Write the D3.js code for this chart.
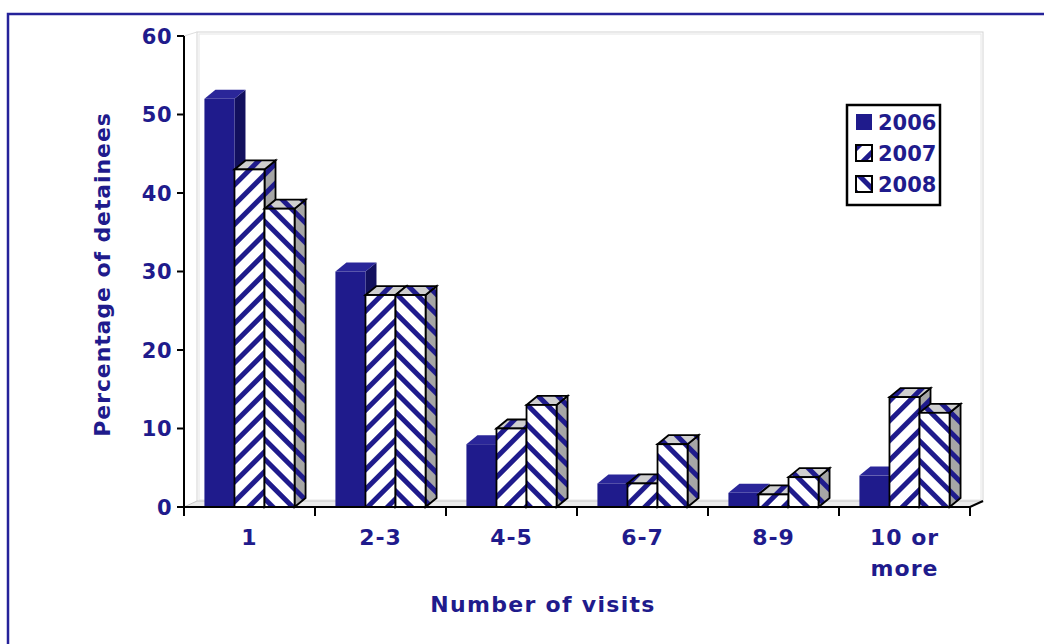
<!DOCTYPE html>
<html lang="en">
<head>
  <meta charset="UTF-8">
  <title>Number of visits</title>
  <script src="https://d3js.org/d3.v7.min.js"></script>
  <style>
    body { margin: 0; background: #fff; }
    svg text { font-family: "DejaVu Sans", Verdana, sans-serif; font-weight: bold; fill: #1f1b8c; }
  </style>
</head>
<body>
  <div id="chart"></div>
  <script>
    // Data
    const categories = ["1", "2-3", "4-5", "6-7", "8-9", "10 or more"];
    const years = ["2006", "2007", "2008"];
    const values2006 = [52, 30, 8, 3, 1.8, 4];
    const values2007 = [43, 27, 10, 3, 1.6, 14];
    const values2008 = [38, 27, 13, 8, 3.8, 12];
    const yTicks = [0, 10, 20, 30, 40, 50, 60];

    const series = [values2006, values2007, values2008];

    const width = 1044, height = 644;
    const navy = "#1f1b8c";
    const dx = 11, dy = 9;       // bar depth
    const wx = 13, wy = 6;       // wall depth

    const svg = d3.select("#chart").append("svg")
      .attr("width", width).attr("height", height);

    // Patterns
    const defs = svg.append("defs");
    function stripes(id, angle, bg) {
      const p = defs.append("pattern")
        .attr("id", id)
        .attr("patternUnits", "userSpaceOnUse")
        .attr("width", 14).attr("height", 14)
        .attr("patternTransform", `rotate(${angle})`);
      p.append("rect").attr("width", 14).attr("height", 14).attr("fill", bg);
      p.append("rect").attr("width", 5).attr("height", 14).attr("fill", navy);
    }
    stripes("p7", 45, "#fff");
    stripes("p7s", 45, "#a6a6a6");
    stripes("p7t", 45, "#cfcfcf");
    stripes("p8", -45, "#fff");
    stripes("p8s", -45, "#a6a6a6");
    stripes("p8t", -45, "#cfcfcf");

    const fills = [
      { front: navy, side: "#12105e", top: "#2a2699", stroke: "none" },
      { front: "url(#p7)", side: "url(#p7s)", top: "url(#p7t)", stroke: "#000" },
      { front: "url(#p8)", side: "url(#p8s)", top: "url(#p8t)", stroke: "#000" }
    ];

    // Outer frame
    svg.append("rect")
      .attr("x", 8).attr("y", 14)
      .attr("width", 1100).attr("height", 700)
      .attr("fill", "none").attr("stroke", "#25229a").attr("stroke-width", 2.5);

    // Scales
    const x = d3.scaleBand().domain(categories).range([184, 970]);
    const xIn = d3.scaleBand().domain(years).range([0, x.bandwidth()]).paddingOuter(0.68);
    const y = d3.scaleLinear().domain([0, 60]).range([507, 36]);

    // Back wall and floor
    const x0 = x.range()[0], x1 = x.range()[1];
    svg.append("rect")
      .attr("x", x0 + wx).attr("y", y(60) - wy + 2)
      .attr("width", x1 - x0).attr("height", y(0) - y(60) - 1)
      .attr("fill", "#fff").attr("stroke", "#d4d4d4").attr("stroke-width", 1);
    svg.append("rect")
      .attr("x", x0 + wx + 2).attr("y", y(60) - wy + 4)
      .attr("width", x1 - x0 - 4).attr("height", y(0) - y(60) - 5)
      .attr("fill", "none").attr("stroke", "#e6e6e6").attr("stroke-width", 1);
    svg.append("path")
      .attr("d", `M${x0},${y(60)}L${x0 + wx},${y(60) - wy + 2}`)
      .attr("stroke", "#ddd").attr("fill", "none");
    svg.append("path")
      .attr("d", `M${x0},${y(0)}L${x0 + wx},${y(0) - wy}L${x1 + wx},${y(0) - wy}L${x1},${y(0)}Z`)
      .attr("fill", "#ececec").attr("stroke", "#c8c8c8");

    // Bars
    years.forEach((yr, i) => {
      const f = fills[i];
      const g = svg.append("g").attr("class", "bars-" + yr);
      categories.forEach((c, j) => {
        const v = series[i][j];
        const bx = x(c) + xIn(yr), bw = xIn.bandwidth();
        const yt = y(v), yb = y(0);
        const sw = f.stroke === "none" ? 0 : 1.8;
        g.append("path")
          .attr("d", `M${bx + bw},${yt}L${bx + bw + dx},${yt - dy}L${bx + bw + dx},${yb - dy}L${bx + bw},${yb}Z`)
          .attr("fill", f.side).attr("stroke", f.stroke).attr("stroke-width", sw);
        g.append("path")
          .attr("d", `M${bx},${yt}L${bx + dx},${yt - dy}L${bx + bw + dx},${yt - dy}L${bx + bw},${yt}Z`)
          .attr("fill", f.top).attr("stroke", f.stroke).attr("stroke-width", sw);
        g.append("rect")
          .attr("x", bx).attr("y", yt)
          .attr("width", bw).attr("height", yb - yt)
          .attr("fill", f.front).attr("stroke", f.stroke).attr("stroke-width", sw);
      });
    });

    // Y axis
    const yAxis = svg.append("g").attr("transform", `translate(${x0},0)`);
    yAxis.append("line")
      .attr("y1", y(60)).attr("y2", y(0))
      .attr("stroke", "#000").attr("stroke-width", 2);
    yAxis.selectAll(".tick").data(yTicks).enter().append("g")
      .attr("transform", d => `translate(0,${y(d)})`)
      .each(function(d) {
        const t = d3.select(this);
        t.append("line").attr("x1", -7).attr("x2", 0).attr("stroke", "#000").attr("stroke-width", 2);
        t.append("text").attr("x", -12).attr("dy", "0.36em")
          .attr("text-anchor", "end").attr("font-size", 21)
          .attr("letter-spacing", 0.5).text(d);
      });

    // X axis
    const xAxis = svg.append("g").attr("transform", `translate(0,${y(0)})`);
    xAxis.append("path")
      .attr("d", `M${x0},0L${x1},0L${x1 + wx},${-wy}`)
      .attr("fill", "none").attr("stroke", "#000").attr("stroke-width", 2);
    xAxis.selectAll(".tick").data(categories.concat([null])).enter().append("line")
      .attr("x1", (d, i) => x0 + i * x.step()).attr("x2", (d, i) => x0 + i * x.step())
      .attr("y1", 0).attr("y2", 9)
      .attr("stroke", "#000").attr("stroke-width", 2);
    xAxis.selectAll(".lbl").data(categories).enter().append("text")
      .attr("x", d => x(d) + x.bandwidth() / 2)
      .attr("y", 38)
      .attr("text-anchor", "middle").attr("font-size", 22)
      .attr("letter-spacing", 1)
      .each(function(d) {
        const words = d === "10 or more" ? ["10 or", "more"] : [d];
        d3.select(this).selectAll("tspan").data(words).enter().append("tspan")
          .attr("x", x(d) + x.bandwidth() / 2)
          .attr("dy", (w, k) => k === 0 ? 0 : 31)
          .text(w => w);
      });

    // Titles
    svg.append("text")
      .attr("transform", `translate(110,${(y(0) + y(60)) / 2 + 3}) rotate(-90)`)
      .attr("text-anchor", "middle").attr("font-size", 22)
      .attr("letter-spacing", 0.9)
      .text("Percentage of detainees");
    svg.append("text")
      .attr("x", 543).attr("y", 612)
      .attr("text-anchor", "middle").attr("font-size", 22)
      .attr("letter-spacing", 1.3)
      .text("Number of visits");

    // Legend
    const legend = svg.append("g").attr("transform", "translate(847,105)");
    legend.append("rect")
      .attr("width", 93).attr("height", 100)
      .attr("fill", "#fff").attr("stroke", "#000").attr("stroke-width", 2.5);
    years.forEach((yr, i) => {
      const row = legend.append("g").attr("transform", `translate(9,${9 + i * 31})`);
      row.append("rect")
        .attr("width", 16).attr("height", 16)
        .attr("fill", fills[i].front)
        .attr("stroke", fills[i].stroke).attr("stroke-width", 2);
      row.append("text")
        .attr("x", 22).attr("y", 8).attr("dy", "0.36em")
        .attr("font-size", 21).text(yr);
    });
  </script>
</body>
</html>
